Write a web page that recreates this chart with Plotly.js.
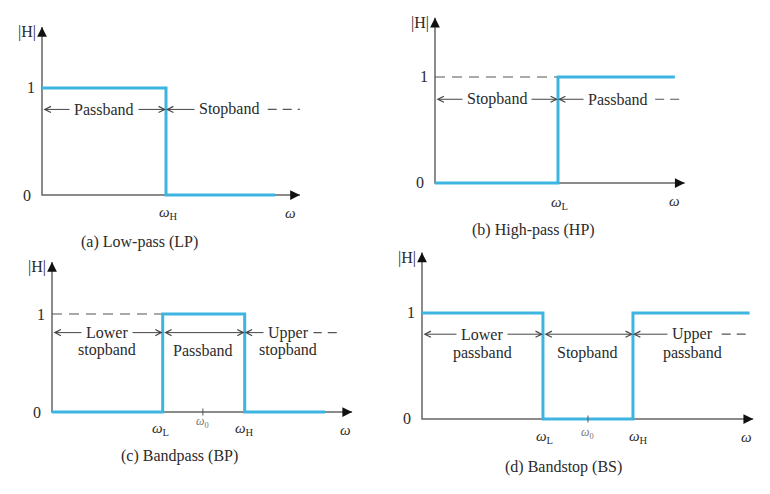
<!DOCTYPE html>
<html><head><meta charset="utf-8">
<script src="https://cdn.plot.ly/plotly-3.0.1.min.js"></script>
<style>html,body{margin:0;padding:0;background:#fff}#chart{width:770px;height:494px}</style>
</head><body><div id="chart"></div>
<script>
// ================= DATA =================
const captions = ['(a) Low-pass (LP)', '(b) High-pass (HP)', '(c) Bandpass (BP)', '(d) Bandstop (BS)'];
const magTickVals = [0, 1];
const magTickText = ['0', '1'];
const magLabel = '|H|';
const freqLabel = '<i>ω</i>';

// ideal magnitude responses (frequency breakpoints, |H|)
const lpFreq = [0, 1.00, 1.00, 1.88];
const lpMag  = [1, 1, 0, 0];
const hpFreq = [0, 1.00, 1.00, 1.95];
const hpMag  = [0, 0, 1, 1];
const bpFreq = [0, 1.35, 1.35, 2.35, 2.35, 3.33];
const bpMag  = [0, 0, 1, 1, 0, 0];
const bsFreq = [0, 1.344, 1.344, 2.344, 2.344, 3.64];
const bsMag  = [1, 1, 0, 0, 1, 1];

// edge frequencies and their labels
const lpEdges = [1.00];                  const lpEdgeText = ['<i>ω</i><sub>H</sub>'];
const hpEdges = [1.00];                  const hpEdgeText = ['<i>ω</i><sub>L</sub>'];
const bpEdges = [1.35, 2.35];            const bpEdgeText = ['<i>ω</i><sub>L</sub>', '<i>ω</i><sub>H</sub>'];
const bsEdges = [1.344, 2.344];          const bsEdgeText = ['<i>ω</i><sub>L</sub>', '<i>ω</i><sub>H</sub>'];
const bpCenter = 1.84;                   const bsCenter = 1.844;
const centerText = '<i>ω</i><sub>0</sub>';

// band names
const lpBands = ['Passband', 'Stopband'];
const hpBands = ['Stopband', 'Passband'];
const bpBands = [['Lower', 'stopband'], ['', 'Passband'], ['Upper', 'stopband']];
const bsBands = [['Lower', 'passband'], ['', 'Stopband'], ['Upper', 'passband']];

// ================= LAYOUT / STYLE =================
const W = 770, H = 494, PAD = 6;
const BLUE = '#3db5e0', AXC = '#666', TXT = '#2b2b2b', ARC = '#444';
const FONT = 'Liberation Serif, Times New Roman, serif';
// pixel geometry of each panel: origin, px per unit, axis extents (data units)
const geo = [
  {ox: 42,  oy: 195, ux: 124, uy: 107, xt: 2.08, yt: 1.57, row: 0.80, row2: null},
  {ox: 435, oy: 183, ux: 123, uy: 106, xt: 2.03, yt: 1.56, row: 0.79, row2: null},
  {ox: 52,  oy: 412, ux: 82,  uy: 98,  xt: 3.66, yt: 1.53, row: 0.81, row2: 0.63},
  {ox: 422, oy: 419, ux: 90,  uy: 106, xt: 3.68, yt: 1.57, row: 0.80, row2: 0.62}
];

const layout = {
  width: W, height: H, margin: {l: 0, r: 0, t: 0, b: 0},
  paper_bgcolor: '#fff', plot_bgcolor: 'rgba(0,0,0,0)', showlegend: false,
  font: {family: FONT, color: TXT, size: 16},
  annotations: []
};
const traces = [];
const ann = layout.annotations;

geo.forEach((g, i) => {
  const s = i === 0 ? '' : String(i + 1);
  const xr = [-PAD / g.ux, g.xt + PAD / g.ux];
  const yr = [-PAD / g.uy, g.yt + PAD / g.uy];
  const left = g.ox - PAD, right = g.ox + g.xt * g.ux + PAD;
  const top = g.oy - g.yt * g.uy - PAD, bottom = g.oy + PAD;
  layout['xaxis' + s] = {domain: [left / W, right / W], range: xr, visible: false, fixedrange: true, anchor: 'y' + s};
  layout['yaxis' + s] = {domain: [1 - bottom / H, 1 - top / H], range: yr, visible: false, fixedrange: true, anchor: 'x' + s};
});

function axesFor(i) {
  const g = geo[i], s = i === 0 ? '' : String(i + 1);
  const xa = 'x' + s, ya = 'y' + s;
  traces.push({x: [g.xt, 0, 0], y: [0, 0, g.yt], xaxis: xa, yaxis: ya, mode: 'lines',
               line: {color: AXC, width: 1.5}, hoverinfo: 'skip'});
  ann.push({xref: xa, yref: ya, x: g.xt, y: 0, ax: -9, ay: 0, text: '', showarrow: true,
            arrowhead: 2, arrowsize: 1.3, arrowwidth: 1.5, arrowcolor: '#111'});
  ann.push({xref: xa, yref: ya, x: 0, y: g.yt, ax: 0, ay: 9, text: '', showarrow: true,
            arrowhead: 2, arrowsize: 1.3, arrowwidth: 1.5, arrowcolor: '#111'});
  // tick labels
  magTickVals.forEach((v, k) => {
    ann.push({xref: xa, yref: ya, x: 0, y: v, text: magTickText[k], showarrow: false,
              xanchor: 'right', yanchor: 'middle', xshift: v === 0 ? -9 : -5, font: {size: 16}});
  });
  ann.push({xref: xa, yref: ya, x: 0, y: g.yt - 0.05, text: magLabel, showarrow: false,
            xanchor: 'right', yanchor: 'middle', xshift: -4, font: {size: 16}});
  ann.push({xref: xa, yref: ya, x: g.xt - 0.08, y: 0, text: freqLabel, showarrow: false,
            yanchor: 'middle', yshift: -18, font: {size: 15}});
}

function dashed(i, x0, x1, y, dash) {
  const s = i === 0 ? '' : String(i + 1);
  traces.push({x: [x0, x1], y: [y, y], xaxis: 'x' + s, yaxis: 'y' + s, mode: 'lines',
               line: {color: '#555', width: 1.2, dash: dash || '9px,6px'}, hoverinfo: 'skip'});
}
function response(i, fx, my) {
  const s = i === 0 ? '' : String(i + 1);
  traces.push({x: fx, y: my, xaxis: 'x' + s, yaxis: 'y' + s, mode: 'lines',
               line: {color: BLUE, width: 3}, hoverinfo: 'skip'});
}
function centerTick(i, x) {
  const s = i === 0 ? '' : String(i + 1);
  traces.push({x: [x], y: [0], xaxis: 'x' + s, yaxis: 'y' + s, mode: 'markers',
               marker: {symbol: 'line-ns-open', size: 5, color: '#555', line: {color: '#555', width: 1}},
               hoverinfo: 'skip'});
}
function arrow(i, head, tail, y, both) {
  const s = i === 0 ? '' : String(i + 1);
  ann.push({xref: 'x' + s, yref: 'y' + s, axref: 'x' + s, ayref: 'y' + s,
            x: head, y: y, ax: tail, ay: y, text: '', showarrow: true,
            arrowside: both ? 'end+start' : 'end', arrowhead: 5, startarrowhead: 5,
            arrowsize: 1.2, startarrowsize: 1.2, arrowwidth: 1, arrowcolor: ARC,
            standoff: 0, startstandoff: 0});
}
function label(i, x, y, text, opts) {
  const s = i === 0 ? '' : String(i + 1);
  ann.push(Object.assign({xref: 'x' + s, yref: 'y' + s, x: x, y: y, text: text, showarrow: false,
            font: {size: 16}}, opts || {}));
}
function edgeLabel(i, x, text, yshift, xshift) {
  label(i, x, 0, text, {yanchor: 'middle', yshift: yshift, xshift: xshift || 0, font: {size: 15}});
}
function caption(i, x, yshift) {
  label(i, x, 0, captions[i], {yanchor: 'middle', yshift: yshift, font: {size: 16}});
}

// ---------- (a) low-pass ----------
axesFor(0);
dashed(0, 1.82, geo[0].xt, geo[0].row);
response(0, lpFreq, lpMag);
arrow(0, lpEdges[0], 0, geo[0].row, true);
arrow(0, lpEdges[0], 1.40, geo[0].row, false);
label(0, 0.50, geo[0].row, lpBands[0], {bgcolor: '#fff', borderpad: 4});
label(0, 1.51, geo[0].row, lpBands[1], {bgcolor: '#fff', borderpad: 4});
edgeLabel(0, lpEdges[0], lpEdgeText[0], -18, 2);
caption(0, 0.79, -47);

// ---------- (b) high-pass ----------
axesFor(1);
dashed(1, 0, hpEdges[0], 1, '10px,7px');
dashed(1, 1.79, geo[1].xt, geo[1].row);
response(1, hpFreq, hpMag);
arrow(1, hpEdges[0], 0, geo[1].row, true);
arrow(1, hpEdges[0], 1.30, geo[1].row, false);
label(1, 0.50, geo[1].row, hpBands[0], {bgcolor: '#fff', borderpad: 4});
label(1, 1.49, geo[1].row, hpBands[1], {bgcolor: '#fff', borderpad: 4});
edgeLabel(1, hpEdges[0], hpEdgeText[0], -20, 1);
caption(1, 0.80, -47);

// ---------- (c) bandpass ----------
axesFor(2);
dashed(2, 0, bpEdges[0], 1, '10px,7px');
dashed(2, 3.18, 3.51, geo[2].row);
response(2, bpFreq, bpMag);
centerTick(2, bpCenter);
arrow(2, bpEdges[0], 0, geo[2].row, true);
arrow(2, bpEdges[1], bpEdges[0], geo[2].row, true);
arrow(2, bpEdges[1], 2.80, geo[2].row, false);
label(2, 0.67, geo[2].row, bpBands[0][0], {bgcolor: '#fff', borderpad: 4});
label(2, 2.88, geo[2].row, bpBands[2][0], {bgcolor: '#fff', borderpad: 4});
label(2, 0.67, geo[2].row2, bpBands[0][1]);
label(2, bpCenter, geo[2].row2, bpBands[1][1]);
label(2, 2.88, geo[2].row2, bpBands[2][1]);
edgeLabel(2, bpEdges[0], bpEdgeText[0], -17, -2);
edgeLabel(2, bpEdges[1], bpEdgeText[1], -17, 0);
label(2, bpCenter, 0, centerText, {yanchor: 'middle', yshift: -10, font: {size: 12, color: '#777'}});
caption(2, 1.56, -44);

// ---------- (d) bandstop ----------
axesFor(3);
dashed(3, 3.33, 3.64, geo[3].row);
response(3, bsFreq, bsMag);
centerTick(3, bsCenter);
arrow(3, bsEdges[0], 0, geo[3].row, true);
arrow(3, bsEdges[1], bsEdges[0], geo[3].row, true);
arrow(3, bsEdges[1], 2.90, geo[3].row, false);
label(3, 0.67, geo[3].row, bsBands[0][0], {bgcolor: '#fff', borderpad: 4});
label(3, 3.01, geo[3].row, bsBands[2][0], {bgcolor: '#fff', borderpad: 4});
label(3, 0.67, geo[3].row2, bsBands[0][1]);
label(3, 1.83, geo[3].row2, bsBands[1][1]);
label(3, 3.01, geo[3].row2, bsBands[2][1]);
edgeLabel(3, bsEdges[0], bsEdgeText[0], -18, 2);
edgeLabel(3, bsEdges[1], bsEdgeText[1], -18, 6);
label(3, bsCenter, 0, centerText, {yanchor: 'middle', yshift: -14, font: {size: 12, color: '#777'}});
caption(3, 1.57, -48);

Plotly.newPlot('chart', traces, layout, {displayModeBar: false, staticPlot: true});
</script>
</body></html>
